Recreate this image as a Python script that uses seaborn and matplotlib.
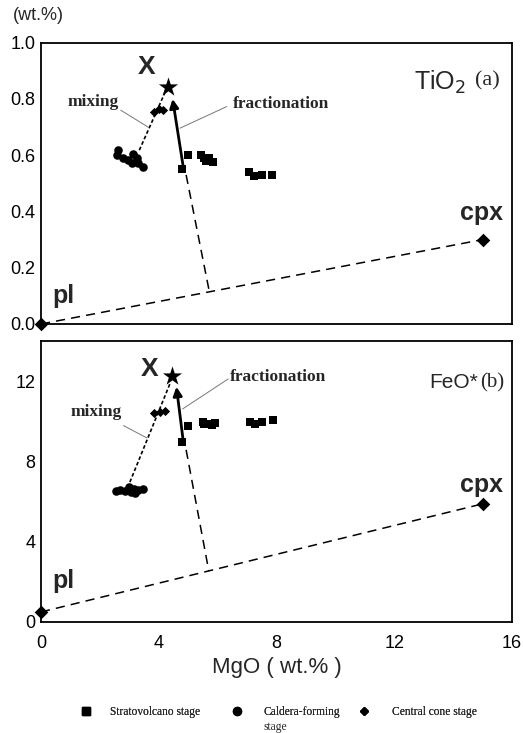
import matplotlib
matplotlib.use('Agg')
import matplotlib.pyplot as plt
import seaborn as sns
from matplotlib.lines import Line2D

sns.set_theme(style='white')
plt.rcParams['font.family'] = ['Liberation Sans', 'DejaVu Sans']
SERIF = ['Liberation Serif', 'DejaVu Serif']

# ---------------- data ----------------
# Panel (a) TiO2 vs MgO
strato_mgo_a = [4.8, 5.0, 5.45, 5.55, 5.6, 5.7, 5.85, 7.05, 7.25, 7.5, 7.85]
strato_tio2 = [0.55, 0.60, 0.60, 0.59, 0.58, 0.59, 0.575, 0.54, 0.525, 0.53, 0.53]
caldera_mgo_a = [2.6, 2.57, 2.8, 2.97, 3.14, 3.25, 3.08, 3.3, 3.47]
caldera_tio2 = [0.62, 0.60, 0.59, 0.583, 0.604, 0.589, 0.571, 0.571, 0.557]
cone_mgo_a = [3.85, 4.0, 4.15]
cone_tio2 = [0.755, 0.765, 0.76]
x_a = (4.32, 0.843)
pl_a = (0.0, 0.0)
cpx_a = (15.0, 0.30)
vertex_a = (5.72, 0.114)
extract_start_a = (4.93, 0.53)
mixing_a = [(3.34, 0.618), (4.25, 0.832)]
fract_a = [(4.83, 0.56), (4.47, 0.80)]

# Panel (b) FeO* vs MgO
strato_mgo_b = [4.78, 5.0, 5.5, 5.55, 5.68, 5.8, 5.9, 7.1, 7.27, 7.5, 7.87]
strato_feo = [9.0, 9.78, 10.0, 9.9, 9.9, 9.86, 9.93, 9.97, 9.9, 9.97, 10.09]
caldera_mgo_b = [2.55, 2.7, 2.85, 3.0, 3.05, 3.15, 3.2, 3.3, 3.45]
caldera_feo = [6.55, 6.6, 6.55, 6.75, 6.5, 6.65, 6.45, 6.6, 6.65]
cone_mgo_b = [3.85, 4.05, 4.2]
cone_feo = [10.45, 10.5, 10.55]
x_b = (4.44, 12.3)
pl_b = (0.0, 0.5)
cpx_b = (15.0, 5.9)
vertex_b = (5.7, 2.55)
extract_start_b = (4.93, 8.6)
mixing_b = [(3.02, 6.99), (4.38, 11.9)]
fract_b = [(4.83, 9.06), (4.6, 11.75)]

xticks = [0, 4, 8, 12, 16]
yticks_a = [0.0, 0.2, 0.4, 0.6, 0.8, 1.0]
yticks_b = [0, 4, 8, 12]

W, H = 523, 733
fig = plt.figure(figsize=(W / 100, H / 100), dpi=100)
ax_a = fig.add_axes([41 / W, 1 - 324 / H, 471 / W, (324 - 42.7) / H])
ax_b = fig.add_axes([41 / W, 1 - 622 / H, 471 / W, (622 - 340.7) / H])


def draw_panel(ax, sx, sy, cx, cy, dx, dy, xstar, pl, cpx, vertex, ext, mix, fr):
    # tie lines
    ax.plot([pl[0], cpx[0]], [pl[1], cpx[1]], color='black', lw=1.1,
            dashes=(6, 4), zorder=2, clip_on=False)
    ax.plot([ext[0], vertex[0]], [ext[1], vertex[1]], color='black', lw=1.1,
            dashes=(6, 4), zorder=2)
    ax.plot([m[0] for m in mix], [m[1] for m in mix], color='black', lw=1.2,
            dashes=(2.2, 1.4), zorder=2)
    ax.annotate('', xy=fr[1], xytext=fr[0],
                arrowprops=dict(arrowstyle='-|>', lw=2.0, color='black',
                                mutation_scale=13, shrinkA=0, shrinkB=0),
                zorder=3)
    sns.scatterplot(x=sx, y=sy, marker='s', s=34, color='black',
                    edgecolor='black', linewidth=0, ax=ax, zorder=4)
    sns.scatterplot(x=cx, y=cy, marker='o', s=38, color='black',
                    edgecolor='black', linewidth=0, ax=ax, zorder=4)
    sns.scatterplot(x=dx, y=dy, marker='D', s=22, color='black',
                    edgecolor='black', linewidth=0, ax=ax, zorder=4)
    sns.scatterplot(x=[pl[0], cpx[0]], y=[pl[1], cpx[1]], marker='D', s=48,
                    color='black', edgecolor='black', linewidth=0, ax=ax,
                    zorder=5, clip_on=False)
    sns.scatterplot(x=[xstar[0]], y=[xstar[1]], marker='*', s=210,
                    color='black', edgecolor='black', linewidth=0, ax=ax, zorder=5)


draw_panel(ax_a, strato_mgo_a, strato_tio2, caldera_mgo_a, caldera_tio2,
           cone_mgo_a, cone_tio2, x_a, pl_a, cpx_a, vertex_a, extract_start_a,
           mixing_a, fract_a)
draw_panel(ax_b, strato_mgo_b, strato_feo, caldera_mgo_b, caldera_feo,
           cone_mgo_b, cone_feo, x_b, pl_b, cpx_b, vertex_b, extract_start_b,
           mixing_b, fract_b)

for ax in (ax_a, ax_b):
    ax.set_xlim(0, 16)
    ax.set_xticks(xticks)
    for sp in ax.spines.values():
        sp.set_color('black')
        sp.set_linewidth(1.3)
    ax.tick_params(direction='in', length=5, width=0.9, color='#444444',
                   labelsize=13, labelcolor='black', pad=4)
    ax.set_xlabel('')
    ax.set_ylabel('')

ax_a.set_ylim(0, 1.0)
ax_a.set_yticks(yticks_a)
ax_a.set_yticklabels(['%.1f' % v for v in yticks_a])
ax_a.tick_params(axis='x', labelbottom=False)
ax_b.set_ylim(0, 14.05)
ax_b.set_yticks(yticks_b)
ax_b.set_yticklabels([str(v) for v in yticks_b])
ax_b.tick_params(axis='x', pad=9)
ax_b.set_xlabel('MgO ( wt.% )', fontsize=16, labelpad=4)

# annotations panel (a)
lead = dict(color='#777777', lw=0.7)
ax_a.text(3.59, 0.915, 'X', fontsize=19, fontweight='bold', ha='center', va='center')
ax_a.text(1.77, 0.79, 'mixing', fontsize=12.5, fontweight='bold', family=SERIF,
          ha='center', va='center')
ax_a.plot([2.71, 3.64], [0.76, 0.70], **lead)
ax_a.text(8.15, 0.782, 'fractionation', fontsize=12.5, fontweight='bold',
          family=SERIF, ha='center', va='center')
ax_a.plot([6.31, 4.72], [0.773, 0.696], **lead)
ax_a.text(14.45, 0.86, 'TiO$_2$', fontsize=18, ha='right', va='center')
ax_a.text(15.6, 0.865, '(a)', fontsize=16, family=SERIF, ha='right', va='center')
ax_a.text(14.95, 0.395, 'cpx', fontsize=18, fontweight='bold', ha='center', va='center')
ax_a.text(0.76, 0.10, 'pl', fontsize=18, fontweight='bold', ha='center', va='center')

# annotations panel (b)
ax_b.text(3.68, 12.63, 'X', fontsize=19, fontweight='bold', ha='center', va='center')
ax_b.text(1.89, 10.47, 'mixing', fontsize=12.5, fontweight='bold', family=SERIF,
          ha='center', va='center')
ax_b.plot([2.8, 3.59], [9.81, 9.2], **lead)
ax_b.text(8.05, 12.22, 'fractionation', fontsize=12.5, fontweight='bold',
          family=SERIF, ha='center', va='center')
ax_b.plot([6.36, 4.81], [12.14, 10.64], **lead)
ax_b.text(14.85, 11.95, 'FeO*', fontsize=15, ha='right', va='center')
ax_b.text(15.75, 11.95, '(b)', fontsize=15, family=SERIF, ha='right', va='center')
ax_b.text(14.95, 6.85, 'cpx', fontsize=18, fontweight='bold', ha='center', va='center')
ax_b.text(0.76, 2.05, 'pl', fontsize=18, fontweight='bold', ha='center', va='center')

fig.text(13 / W, 1 - 15 / H, '(wt.%)', fontsize=13, ha='left', va='center')

# legend: three entries at fixed positions
fs = 8.3
fs_px = fs * 100 / 72
entries = [
    (Line2D([], [], marker='s', color='black', ls='none', markersize=5.5),
     'Stratovolcano stage', 86, 110),
    (Line2D([], [], marker='o', color='black', ls='none', markersize=5.8),
     'Caldera-forming', 237, 263),
    (Line2D([], [], marker='D', color='black', ls='none', markersize=3.8),
     'Central cone stage', 364, 392),
]
y_leg = 712
for h, lab, mx, tx in entries:
    hl = 1.0
    x_left = mx - hl * fs_px / 2
    pad = (tx - x_left - hl * fs_px) / fs_px
    lg = fig.legend([h], [lab], loc='center left', frameon=False,
                    bbox_to_anchor=(x_left / W, 1 - y_leg / H),
                    prop={'family': SERIF, 'size': fs},
                    handlelength=hl, handletextpad=pad, borderpad=0,
                    borderaxespad=0)
    fig.add_artist(lg)
fig.text(263 / W, 1 - 727 / H, 'stage', fontsize=fs, family=SERIF,
         ha='left', va='center')

fig.savefig('out.png', dpi=100, facecolor='white')
